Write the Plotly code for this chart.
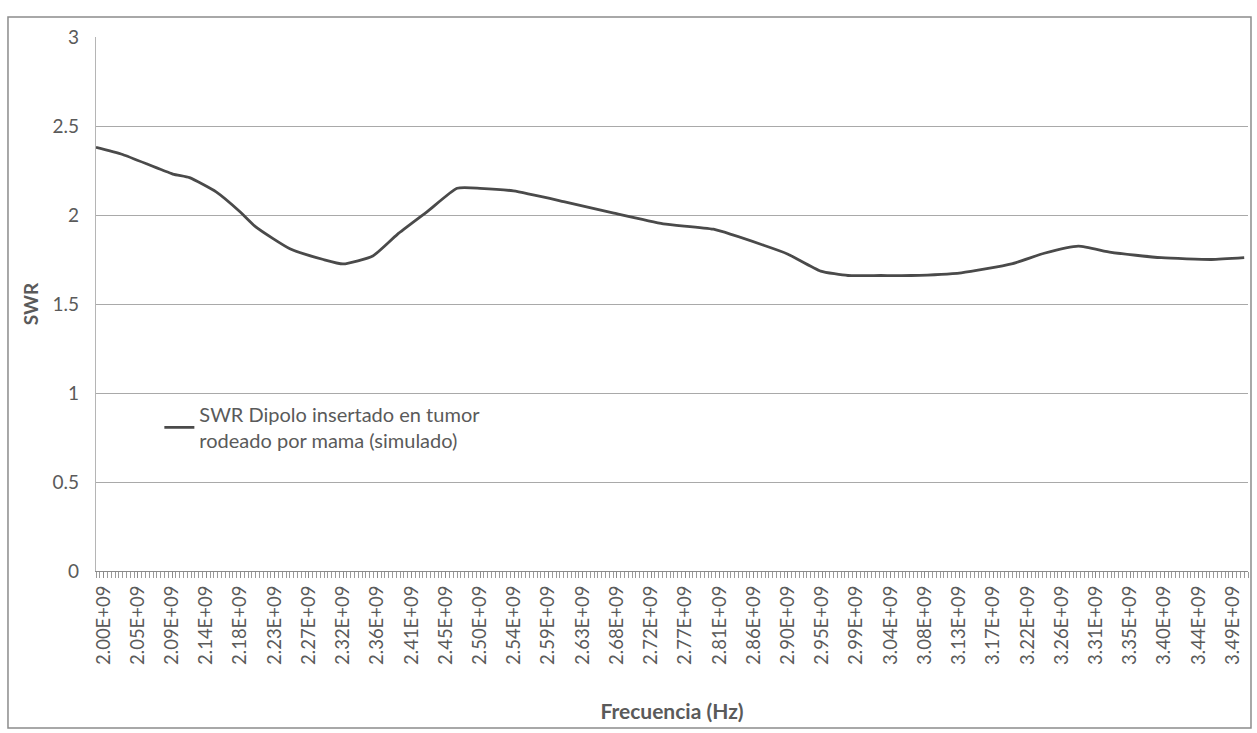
import plotly.graph_objects as go

# Simulated SWR of the dipole inserted in a tumour surrounded by breast tissue
freq_ghz = [1.990, 2.025, 2.091, 2.113, 2.148, 2.179, 2.201, 2.245, 2.289, 2.315,
            2.354, 2.386, 2.426, 2.465, 2.495, 2.539, 2.605, 2.671, 2.736, 2.802,
            2.868, 2.900, 2.943, 2.979, 3.022, 3.062, 3.128, 3.194, 3.237, 3.282,
            3.325, 3.391, 3.457, 3.500]
swr = [2.38, 2.34, 2.23, 2.21, 2.13, 2.02, 1.93, 1.81, 1.75, 1.725,
       1.77, 1.89, 2.02, 2.15, 2.15, 2.135, 2.075, 2.01, 1.95, 1.92,
       1.83, 1.78, 1.685, 1.66, 1.66, 1.66, 1.675, 1.725, 1.785, 1.825,
       1.79, 1.76, 1.75, 1.76]

# Category labels shown every 9 samples (0.045 GHz apart)
tick_labels = ["2.00E+09", "2.05E+09", "2.09E+09", "2.14E+09", "2.18E+09", "2.23E+09",
               "2.27E+09", "2.32E+09", "2.36E+09", "2.41E+09", "2.45E+09", "2.50E+09",
               "2.54E+09", "2.59E+09", "2.63E+09", "2.68E+09", "2.72E+09", "2.77E+09",
               "2.81E+09", "2.86E+09", "2.90E+09", "2.95E+09", "2.99E+09", "3.04E+09",
               "3.08E+09", "3.13E+09", "3.17E+09", "3.22E+09", "3.26E+09", "3.31E+09",
               "3.35E+09", "3.40E+09", "3.44E+09", "3.49E+09"]
tick_step_hz = 0.045e9
sample_step_hz = 0.005e9

freq_hz = [f * 1e9 for f in freq_ghz]
tick_vals = [2.0e9 + i * tick_step_hz for i in range(len(tick_labels))]

FONT = "Lato, 'Open Sans', sans-serif"
TEXT = "#5a5a5a"
GRID = "#a9a9a9"

fig = go.Figure()
fig.add_trace(go.Scatter(
    x=freq_hz, y=swr, mode="lines",
    line=dict(color="#4a4a4a", width=2.8, shape="spline", smoothing=0.5),
    name="SWR Dipolo insertado en tumor<br>rodeado por mama (simulado)",
    showlegend=True,
))

fig.update_layout(
    width=1257, height=733,
    margin=dict(l=96, r=9, t=37, b=162),
    paper_bgcolor="white", plot_bgcolor="white",
    font=dict(family=FONT, color=TEXT),
    showlegend=True,
    legend=dict(
        x=0.055, y=0.33, xanchor="left", yanchor="top",
        bgcolor="rgba(255,255,255,0)", borderwidth=0,
        font=dict(size=20, color=TEXT, family=FONT),
        itemwidth=30,
    ),
    xaxis=dict(
        range=[1.99e9, 3.505e9],
        tickmode="array", tickvals=tick_vals, ticktext=tick_labels,
        tickangle=-90, tickfont=dict(size=18.5, color=TEXT),
        ticks="outside", ticklen=6, tickcolor="#8a8a8a",
        minor=dict(tickmode="linear", tick0=2.0e9, dtick=sample_step_hz,
                   ticks="outside", ticklen=6, tickcolor="#9a9a9a", showgrid=False),
        showgrid=False, zeroline=False,
        showline=True, linecolor="#8a8a8a", linewidth=1.2,
        title=dict(text="<b>Frecuencia (Hz)</b>", font=dict(size=21, color=TEXT), standoff=40),
    ),
    yaxis=dict(
        range=[0, 3], dtick=0.5, tick0=0,
        tickfont=dict(size=19, color=TEXT),
        ticklabelstandoff=12,
        showgrid=True, gridcolor=GRID, gridwidth=1.2,
        zeroline=False,
        showline=True, linecolor="#b5b5b5", linewidth=1.2,
        title=dict(text="<b>SWR</b>", font=dict(size=19, color=TEXT), standoff=8),
    ),
    shapes=[
        # outer chart frame
        dict(type="rect", xref="paper", yref="paper",
             x0=-0.0764, x1=1.0026, y0=-0.294, y1=1.0375,
             line=dict(color="#8c8c8c", width=1.5), fillcolor="rgba(0,0,0,0)"),
    ],
)

fig.write_html("out.html")
